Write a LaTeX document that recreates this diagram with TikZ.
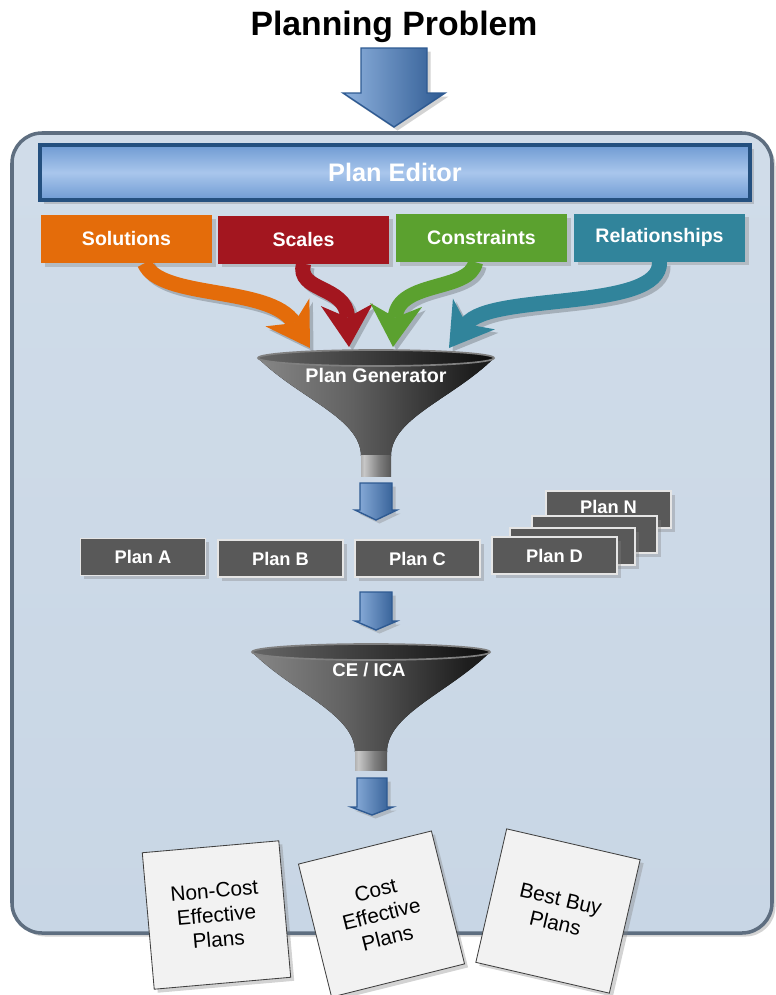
\documentclass[tikz,border=0pt]{standalone}
\usepackage{fontspec}
\setmainfont{Liberation Sans}
\usetikzlibrary{arrows.meta,calc,shadows}

\newlength\px
\setlength\px{0.025cm}

\definecolor{panelC}{HTML}{C8D6E5}
\definecolor{frameC}{HTML}{5E6E80}
\definecolor{editT}{HTML}{6F9BD3}
\definecolor{editM}{HTML}{A9C6EC}
\definecolor{editD}{HTML}{24507F}
\definecolor{solC}{HTML}{E46C0A}
\definecolor{scaC}{HTML}{A3161F}
\definecolor{conC}{HTML}{5BA12F}
\definecolor{relC}{HTML}{31849B}
\definecolor{planC}{HTML}{595959}
\definecolor{arrC}{HTML}{8FB2DE}
\definecolor{arrD}{HTML}{2E5A92}

\pgfdeclarehorizontalshading{funnelshade}{100bp}{color(0bp)=(black!62); color(22bp)=(black!45); color(45bp)=(black!62); color(70bp)=(black!88); color(100bp)=(black!97)}
\pgfdeclarehorizontalshading{spoutshade}{100bp}{color(0bp)=(black!70); color(30bp)=(black!22); color(55bp)=(black!50); color(100bp)=(black!85)}

% block arrow: centre x, top, shaft half, head half, head base, tip
\newcommand\blockdown[6]{%
  \draw[blockarrow] (#1-#3,#2) -- (#1+#3,#2) -- (#1+#3,#5) -- (#1+#4,#5)
    -- (#1,#6) -- (#1-#4,#5) -- (#1-#3,#5) -- cycle;}

% funnel: centre x, rim y, rim half, neck y, neck half, spout end
\newcommand\funnel[6]{%
  \fill[shading=funnelshade] (#1-#3,#2) .. controls (#1-#3+40,#2+40) and (#1-#5,#4-38) .. (#1-#5,#4)
    -- (#1+#5,#4) .. controls (#1+#5,#4-38) and (#1+#3-40,#2+40) .. (#1+#3,#2) -- cycle;
  \fill[shading=spoutshade] (#1-#5,#4-1) rectangle (#1+#5,#6);
  \draw[draw=black!50, line width=1.2pt, left color=black!60, right color=black!95]
    (#1,#2) ellipse [x radius=#3, y radius=8];}

\begin{document}
\begin{tikzpicture}[x=0.025cm, y=-0.025cm,
    softshadow/.style={drop shadow={opacity=0.35, shadow xshift=2.5pt, shadow yshift=-2.5pt}},
    catbox/.style={softshadow, minimum width=171\px, minimum height=48\px, inner sep=0pt,
      text=white, font=\bfseries\fontsize{13.9}{16}\selectfont},
    planbox/.style={softshadow, draw=black!10, line width=1.2pt, fill=planC, minimum width=125\px,
      minimum height=37\px, inner sep=0pt, text=white, font=\bfseries\fontsize{13}{15}\selectfont},
    card/.style={softshadow, draw=black!75, line width=0.6pt, fill=black!5, minimum width=137\px,
      minimum height=137\px, inner sep=0pt, align=center, font=\fontsize{14.8}{17.5}\selectfont},
    funneltext/.style={text=white, font=\bfseries\fontsize{14}{16}\selectfont},
    blockarrow/.style={softshadow, draw=arrD, line width=1pt, left color=arrC, right color=arrD},
    flow/.style={line width=10.7pt, -{Stealth[width=37pt, length=30pt, inset=9pt, line width=0pt]}},
    flowshadow/.style={flow, draw=black, opacity=0.2, transform canvas={shift={(2.5pt,-2.5pt)}}}]

\useasboundingbox (0,0) rectangle (776,995);

% panel
\draw[softshadow, draw=frameC, line width=2.5pt, top color=panelC!85!white, bottom color=panelC,
  rounded corners=0.75cm] (12,133) rectangle (772,933);

\node[font=\bfseries\fontsize{24}{28}\selectfont] (title) at (394,27) {Planning Problem};
\blockdown{394}{48}{33}{51}{93}{127}

\node[softshadow, draw=editD, line width=2.2pt, top color=editT, bottom color=editT, middle color=editM,
  minimum width=710\px, minimum height=55\px, text=white,
  font=\bfseries\fontsize{18}{20}\selectfont] (editor) at (395,172.5) {Plan Editor};

\node[catbox, fill=solC] (sol) at (126.5,239) {Solutions};
\node[catbox, fill=scaC] (sca) at (303.5,239.5) {Scales};
\node[catbox, fill=conC] (con) at (481.5,238) {Constraints};
\node[catbox, fill=relC] (rel) at (659.5,237.5) {Relationships};

% inputs into the generator
\coordinate (inA) at (310,348);
\coordinate (inB) at (349,347);
\coordinate (inC) at (393,347);
\coordinate (inD) at (449,348);

\begin{scope}[flowshadow]
  \draw ($(sol.south)+(18,0)$) .. controls (160,300) and (270,285) .. (inA);
  \draw (sca.south) .. controls (296,292) and (346,285) .. (inB);
  \draw ($(con.south)+(-6,0)$) .. controls (470,292) and (398,280) .. (inC);
  \draw (rel.south) .. controls (662,312) and (490,292) .. (inD);
\end{scope}
\draw[flow, solC] ($(sol.south)+(18,0)$) .. controls (160,300) and (270,285) .. (inA);
\draw[flow, scaC] (sca.south) .. controls (296,292) and (346,285) .. (inB);
\draw[flow, conC] ($(con.south)+(-6,0)$) .. controls (470,292) and (398,280) .. (inC);
\draw[flow, relC] (rel.south) .. controls (662,312) and (490,292) .. (inD);

\funnel{376}{358}{118}{456}{15}{476}
\node[funneltext] (gen) at (376,375) {Plan Generator};

\blockdown{376}{483}{16}{21}{510}{520}

% plans
\node[planbox] (planA) at (143,557) {Plan A};
\node[planbox] (planB) at (280.5,558.5) {Plan B};
\node[planbox] (planC) at (417.5,558.5) {Plan C};
\node[planbox] (planN) at (608.5,509.5) {\raisebox{4pt}{Plan N}};
\node[planbox] (back1) at (594.5,534.5) {};
\node[planbox] (back2) at (572.5,546.5) {};
\node[planbox] (planD) at (554.5,555.5) {Plan D};

\blockdown{376}{592}{16}{21}{621}{630}

\funnel{371}{652}{119}{752}{16}{770}
\node[funneltext, font=\bfseries\fontsize{13.2}{15}\selectfont] (ceica) at (369,670) {CE / ICA};

\blockdown{372}{778}{15}{21}{807}{815}

% results
\node[card, rotate=5] (noncost) at (216.5,915) {Non-Cost\\Effective\\Plans};
\node[card, rotate=14] (costeff) at (381.5,914) {Cost\\Effective\\Plans};
\node[card, rotate=-13] (bestbuy) at (558,911) {Best Buy\\Plans};
\end{tikzpicture}
\end{document}
